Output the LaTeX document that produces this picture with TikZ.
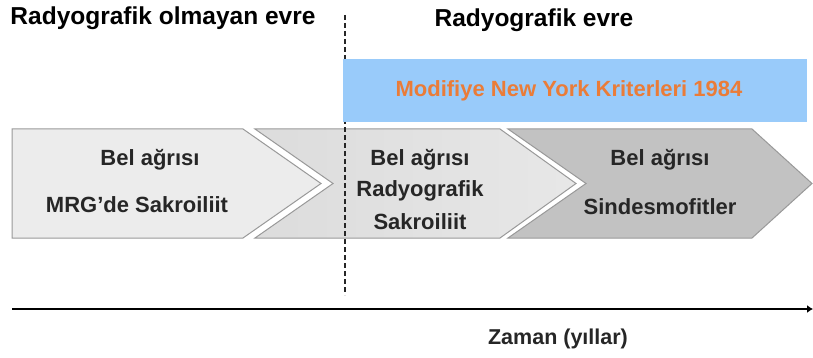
\documentclass[tikz,border=0pt]{standalone}
\usepackage{fontspec}
\setmainfont{Liberation Sans}
\usetikzlibrary{arrows.meta}

\definecolor{nybox}{RGB}{153,203,250}
\definecolor{nytext}{RGB}{234,124,56}
\definecolor{chevA}{RGB}{236,236,236}
\definecolor{chevB}{RGB}{220,220,220}
\definecolor{chevC}{RGB}{194,194,194}

\tikzset{
  phase/.style={draw=gray!80, line width=1pt},
  lbl/.style={font=\fontsize{22}{26}\selectfont\bfseries, text=black!85},
  title/.style={font=\fontsize{24.5}{29}\selectfont\bfseries},
}

\begin{document}
\begin{tikzpicture}[x=1pt,y=-1pt]
\useasboundingbox (0,0) rectangle (813,358);

% evre (phase) arrows
\draw[phase, fill=chevA] (12,129) -- (243,129) -- (321,183.5) -- (243,238) -- (12,238) -- cycle;
\draw[phase, left color=chevB, right color=chevA!70!chevB]
  (255,129) -- (500,129) -- (576,183.5) -- (500,238) -- (255,238) -- (333,183.5) -- cycle;
\draw[phase, fill=chevC] (508,129) -- (752,129) -- (812,183.5) -- (752,238) -- (508,238) -- (586,183.5) -- cycle;

% border between the two phases
\coordinate (cut top) at (345,15);
\coordinate (cut bot) at (345,295);
\draw[gray!30!black, line width=1.4pt, dash pattern=on 5pt off 3pt] (cut top) -- (cut bot);

\fill[nybox] (343,59) rectangle (807,122);
\node[font=\fontsize{22}{26}\selectfont\bfseries, text=nytext] (mny) at (569,91) {Modifiye New York Kriterleri 1984};

\node[title] (nonrad) at (163,18) {Radyografik olmayan evre};
\node[title] (rad) at (534,20) {Radyografik evre};

\node[lbl] (a1) at (150,160) {Bel ağrısı};
\node[lbl] (a2) at (137,205) {MRG’de Sakroiliit};
\node[lbl] (b1) at (420,160) {Bel ağrısı};
\node[lbl] (b2) at (420,191) {Radyografik};
\node[lbl] (b3) at (420,222) {Sakroiliit};
\node[lbl] (c1) at (660,160) {Bel ağrısı};
\node[lbl] (c2) at (660,207) {Sindesmofitler};

% time axis
\coordinate (t0) at (12,309);
\coordinate (t1) at (813,309);
\draw[line width=2.8pt, -{Latex[length=6pt,width=8pt]}] (t0) -- (t1);
\node[font=\fontsize{21.5}{26}\selectfont\bfseries, text=black!85] (zaman) at (558,339) {Zaman (yıllar)};
\end{tikzpicture}
\end{document}
